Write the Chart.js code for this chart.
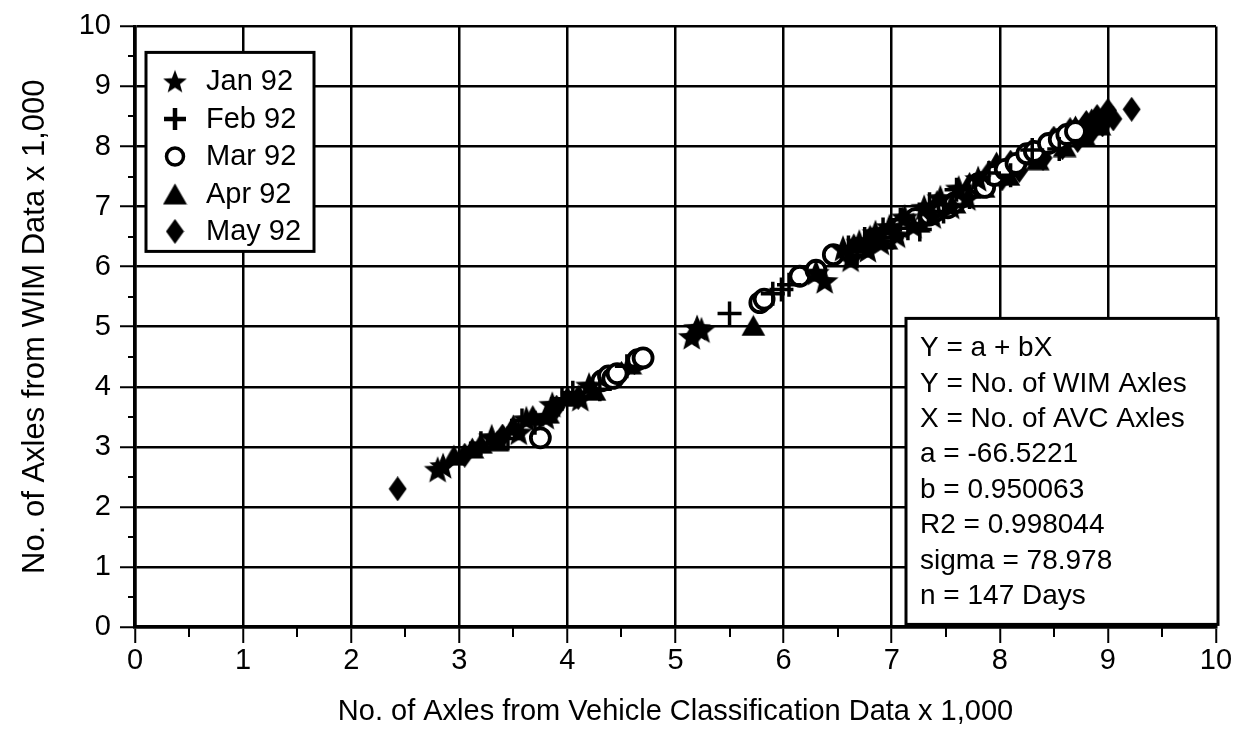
<!DOCTYPE html>
<html>
<head>
<meta charset="utf-8">
<script src="https://cdn.jsdelivr.net/npm/chart.js@4.4.1/dist/chart.umd.min.js"></script>
<style>
html,body{margin:0;padding:0;background:#fff;}
#c{display:block;}
</style>
</head>
<body>
<canvas id="c" width="1257" height="729"></canvas>
<script>
// ---------------- DATA (thousands of axles) ----------------
const seriesLabels = ['Jan 92', 'Feb 92', 'Mar 92', 'Apr 92', 'May 92'];

const janX = [2.80, 2.85, 3.30, 3.55, 3.62, 3.80, 3.86, 4.12, 4.20, 5.15, 5.20, 5.24, 6.30, 6.38, 6.55, 6.62, 6.70, 6.78, 6.85, 6.90, 6.98, 7.05, 7.12, 7.20, 7.30, 7.38, 7.45, 7.55, 7.62, 7.70, 7.80];
const janY = [2.62, 2.68, 3.16, 3.24, 3.46, 3.50, 3.70, 3.80, 4.02, 4.83, 4.98, 4.94, 5.90, 5.76, 6.30, 6.12, 6.40, 6.28, 6.56, 6.40, 6.66, 6.52, 6.82, 6.68, 6.98, 6.84, 7.14, 7.00, 7.30, 7.14, 7.46];

const febX = [3.20, 3.45, 3.58, 3.70, 3.95, 4.05, 4.30, 4.55, 5.50, 5.90, 5.98, 6.05, 6.60, 6.68, 6.75, 6.82, 6.92, 7.00, 7.08, 7.15, 7.26, 7.35, 7.48, 7.60, 7.72, 7.90, 8.10, 8.30, 8.55];
const febY = [3.06, 3.14, 3.44, 3.40, 3.80, 3.90, 3.96, 4.34, 5.22, 5.55, 5.62, 5.70, 6.32, 6.18, 6.46, 6.34, 6.62, 6.48, 6.78, 6.64, 6.62, 7.04, 6.92, 7.28, 7.16, 7.56, 7.52, 7.94, 7.96];

const marX = [3.75, 4.32, 4.38, 4.42, 4.46, 4.65, 4.70, 5.78, 5.82, 6.15, 6.30, 6.46, 6.95, 7.10, 7.22, 7.35, 7.40, 7.52, 7.58, 7.65, 7.80, 7.86, 7.95, 8.05, 8.15, 8.25, 8.32, 8.45, 8.55, 8.62, 8.70];
const marY = [3.15, 4.10, 4.18, 4.14, 4.22, 4.45, 4.48, 5.40, 5.46, 5.84, 5.94, 6.20, 6.52, 6.68, 6.80, 6.86, 6.92, 6.98, 7.06, 7.16, 7.38, 7.32, 7.52, 7.62, 7.72, 7.88, 7.92, 8.05, 8.12, 8.20, 8.25];

const aprX = [2.95, 3.12, 3.20, 3.35, 3.50, 3.68, 3.82, 4.00, 4.25, 4.58, 5.72, 6.65, 6.80, 6.95, 7.10, 7.25, 7.42, 7.58, 7.72, 7.85, 7.97, 8.08, 8.20, 8.35, 8.48, 8.60, 8.70, 8.78, 8.85, 8.92];
const aprY = [2.86, 2.98, 3.06, 3.10, 3.36, 3.52, 3.56, 3.84, 3.94, 4.38, 5.02, 6.38, 6.52, 6.46, 6.82, 6.74, 7.10, 7.06, 7.40, 7.32, 7.74, 7.52, 7.86, 7.78, 8.12, 8.00, 8.34, 8.18, 8.46, 8.36];

const mayX = [2.43, 3.05, 3.40, 3.90, 4.10, 4.50, 4.62, 5.18, 7.90, 8.02, 8.10, 8.18, 8.28, 8.40, 8.50, 8.58, 8.65, 8.72, 8.80, 8.85, 8.90, 8.95, 9.00, 9.05, 9.22, 8.40];
const mayY = [2.30, 2.86, 3.18, 3.66, 3.82, 4.22, 4.40, 4.88, 7.56, 7.46, 7.74, 7.60, 7.90, 7.80, 8.14, 7.98, 8.28, 8.10, 8.40, 8.24, 8.50, 8.36, 8.60, 8.46, 8.62, 7.82];

const majorTicks = [0, 1, 2, 3, 4, 5, 6, 7, 8, 9, 10];
const minorTicks = [0.5, 1.5, 2.5, 3.5, 4.5, 5.5, 6.5, 7.5, 8.5, 9.5];

const xTitle = 'No. of Axles from Vehicle Classification Data x 1,000';
const yTitle = 'No. of Axles from WIM Data x 1,000';

const statsLines = [
  'Y = a + bX',
  'Y = No. of WIM Axles',
  'X = No. of AVC Axles',
  'a = -66.5221',
  'b = 0.950063',
  'R2 = 0.998044',
  'sigma = 78.978',
  'n = 147 Days'
];

const FONT = "'Liberation Sans', Arial, sans-serif";

// ---------------- MARKERS ----------------
function makeCanvas(w, h, draw) {
  const c = document.createElement('canvas');
  c.width = w; c.height = h;
  const g = c.getContext('2d');
  g.fillStyle = '#000';
  draw(g, w, h);
  return c;
}
function starPath(g, cx, cy, R, r) {
  g.beginPath();
  for (let i = 0; i < 10; i++) {
    const a = -Math.PI / 2 + i * Math.PI / 5;
    const rr = i % 2 === 0 ? R : r;
    const px = cx + rr * Math.cos(a), py = cy + rr * Math.sin(a);
    if (i === 0) g.moveTo(px, py); else g.lineTo(px, py);
  }
  g.closePath(); g.fill();
}
const starImg = makeCanvas(30, 30, (g) => starPath(g, 15, 16, 14.5, 6.2));
const legendStarImg = makeCanvas(26, 26, (g) => starPath(g, 13, 14, 12.5, 5.3));
const triImg = makeCanvas(25, 22, (g) => {
  g.beginPath(); g.moveTo(12.5, 0.5); g.lineTo(24.5, 21.5); g.lineTo(0.5, 21.5); g.closePath(); g.fill();
});
const diaImg = makeCanvas(19, 25, (g) => {
  g.beginPath(); g.moveTo(9.5, 0); g.lineTo(18.5, 12.5); g.lineTo(9.5, 25); g.lineTo(0.5, 12.5); g.closePath(); g.fill();
});

function pts(xs, ys) { return xs.map((x, i) => ({ x: x, y: ys[i] })); }

const datasets = [
  { label: seriesLabels[0], data: pts(janX, janY), pointStyle: starImg, radius: 14, backgroundColor: '#000', borderColor: '#000' },
  { label: seriesLabels[1], data: pts(febX, febY), pointStyle: 'cross', radius: 12, borderWidth: 3.5, backgroundColor: '#000', borderColor: '#000' },
  { label: seriesLabels[2], data: pts(marX, marY), pointStyle: 'circle', radius: 9.5, borderWidth: 3.8, backgroundColor: '#fff', borderColor: '#000' },
  { label: seriesLabels[3], data: pts(aprX, aprY), pointStyle: triImg, radius: 12, backgroundColor: '#000', borderColor: '#000' },
  { label: seriesLabels[4], data: pts(mayX, mayY), pointStyle: diaImg, radius: 12, backgroundColor: '#000', borderColor: '#000' }
];

// ---------------- PLUGIN: minor ticks, legend, stats ----------------
const extras = {
  id: 'extras',
  afterDraw(chart) {
    const ctx = chart.ctx, ca = chart.chartArea;
    const xs = chart.scales.x, ys = chart.scales.y;
    ctx.save();
    ctx.strokeStyle = '#000';
    ctx.lineWidth = 2;
    // minor ticks
    minorTicks.forEach(v => {
      const px = Math.round(xs.getPixelForValue(v));
      ctx.beginPath(); ctx.moveTo(px, ca.bottom); ctx.lineTo(px, ca.bottom + 10); ctx.stroke();
      const py = Math.round(ys.getPixelForValue(v));
      ctx.beginPath(); ctx.moveTo(ca.left - 7, py); ctx.lineTo(ca.left, py); ctx.stroke();
    });

    // legend box
    const lx = ca.left + 11, ly = ca.top + 26, lw = 168, lh = 199;
    ctx.fillStyle = '#fff';
    ctx.fillRect(lx, ly, lw, lh);
    ctx.lineWidth = 3;
    ctx.strokeRect(lx, ly, lw, lh);
    ctx.font = '29px ' + FONT;
    ctx.textBaseline = 'middle';
    ctx.textAlign = 'left';
    chart.data.datasets.forEach((ds, i) => {
      const cy = ly + 29 + i * 37.5;
      const cx = lx + 29;
      ctx.fillStyle = '#000';
      let st = ds.pointStyle;
      if (st === starImg) st = legendStarImg;
      if (st instanceof HTMLCanvasElement) {
        ctx.drawImage(st, cx - st.width / 2, cy - st.height / 2);
      } else if (st === 'cross') {
        ctx.lineWidth = 4.5;
        ctx.beginPath(); ctx.moveTo(cx - 11, cy); ctx.lineTo(cx + 11, cy);
        ctx.moveTo(cx, cy - 11); ctx.lineTo(cx, cy + 11); ctx.stroke();
      } else if (st === 'circle') {
        ctx.lineWidth = 3.5;
        ctx.beginPath(); ctx.arc(cx, cy, 8.5, 0, Math.PI * 2); ctx.stroke();
      }
      ctx.fillStyle = '#000';
      ctx.fillText(ds.label, lx + 60, cy + 1);
    });

    // stats box
    const sx = ca.right - 310, sy = ca.top + 292, sw = 312, sh = 306;
    ctx.fillStyle = '#fff';
    ctx.fillRect(sx, sy, sw, sh);
    ctx.lineWidth = 3;
    ctx.strokeRect(sx, sy, sw, sh);
    ctx.fillStyle = '#000';
    ctx.font = '28px ' + FONT;
    statsLines.forEach((t, i) => {
      ctx.fillText(t, sx + 14, sy + 30 + i * 35.4);
    });
    ctx.restore();
  }
};

// ---------------- CHART ----------------
new Chart(document.getElementById('c'), {
  type: 'scatter',
  data: { datasets: datasets },
  options: {
    responsive: false,
    animation: false,
    devicePixelRatio: 1,
    layout: { padding: { top: 17, right: 41, left: 0, bottom: 0 } },
    plugins: { legend: { display: false }, tooltip: { enabled: false } },
    scales: {
      x: {
        type: 'linear', min: 0, max: 10,
        afterFit(s) { s.height = 102; },
        afterBuildTicks(s) { s.ticks = majorTicks.map(v => ({ value: v })); },
        ticks: { stepSize: 1, color: '#000', font: { family: FONT, size: 29 }, padding: 1, maxRotation: 0, autoSkip: false },
        grid: { color: '#000', lineWidth: 2.5, tickLength: 16, tickColor: '#000', tickWidth: 2 },
        border: { display: true, color: '#000', width: 3.5 },
        title: { display: true, text: xTitle, color: '#000', font: { family: FONT, size: 29 }, padding: { top: 0, bottom: 0 } }
      },
      y: {
        type: 'linear', min: 0, max: 10,
        afterFit(s) { s.width = 135; },
        afterBuildTicks(s) { s.ticks = majorTicks.map(v => ({ value: v })); },
        ticks: { stepSize: 1, color: '#000', font: { family: FONT, size: 29 }, padding: 9, autoSkip: false },
        grid: { color: '#000', lineWidth: 2.5, tickLength: 15, tickColor: '#000', tickWidth: 2 },
        border: { display: true, color: '#000', width: 3.5 },
        title: { display: true, text: yTitle, color: '#000', font: { family: FONT, size: 31 }, padding: { top: 17, bottom: 0 } }
      }
    }
  },
  plugins: [extras]
});
</script>
</body>
</html>
